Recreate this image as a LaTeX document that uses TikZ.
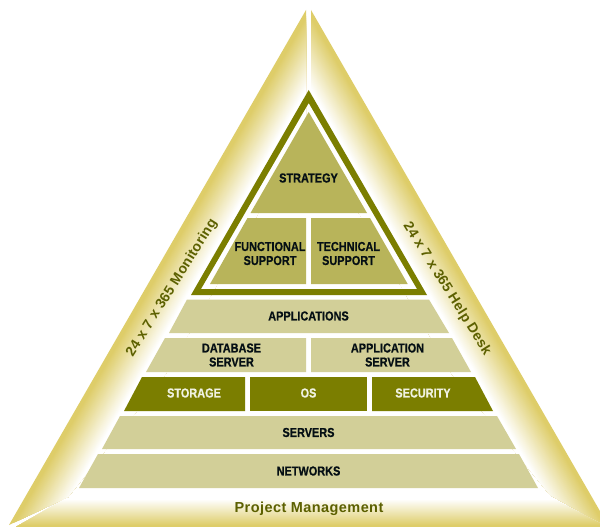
\documentclass[tikz,border=0pt]{standalone}
\usepackage{fontspec}
\setmainfont{Liberation Sans}
\newfontfamily\narrowbold[FakeStretch=0.84,FakeBold=0.6]{Liberation Sans Bold}
\newfontfamily\sidebold[LetterSpace=3]{Liberation Sans Bold}
\newfontfamily\slantbold[LetterSpace=2]{Liberation Sans Bold}
\definecolor{goldedge}{RGB}{222,205,105}
\definecolor{olive}{RGB}{123,126,0}
\definecolor{olivetext}{RGB}{92,96,0}
\definecolor{midtan}{RGB}{184,180,90}
\definecolor{lighttan}{RGB}{210,207,152}
\definecolor{inktext}{RGB}{5,15,20}
\definecolor{paletext}{RGB}{240,242,225}
\tikzset{
  midblock/.style={fill=midtan},
  lightblock/.style={fill=lighttan},
  darkblock/.style={fill=olive},
  lbl/.style={font=\narrowbold\fontsize{13}{14}\selectfont,text=inktext,align=center,inner sep=0pt},
  lblpale/.style={lbl,text=paletext},
  sidelbl/.style={font=\sidebold\fontsize{14.5}{15}\selectfont,text=olivetext,inner sep=0pt},
  slantlbl/.style={font=\slantbold\fontsize{14}{15}\selectfont,text=olivetext,inner sep=0pt}
}
\begin{document}
\begin{tikzpicture}[x=1pt,y=1pt]
\useasboundingbox (0,-527) rectangle (600,0);
\fill[white] (0,-527) rectangle (600,0);
% outer panels: gradients painted as overlapping strips
\begin{scope}
  \clip (306,-10) -- (306,-200) -- (68,-497) -- (9,-525) -- cycle;
  \fill[goldedge,shift={(9,-525)},rotate=-30] (-5,-20) rectangle (60,620);
  \foreach \u in {3,4,...,39}{
    \pgfmathsetmacro{\pc}{100*(39-\u)/36}
    \fill[goldedge!\pc!white,shift={(9,-525)},rotate=-30] (\u,-20) rectangle (60,620);
  }
\end{scope}
\begin{scope}
  \clip (311,-10) -- (311,-200) -- (550,-495) -- (600,-523) -- (600,-10) -- cycle;
  \clip (311,-10) -- (608,-525) -- (311,-525) -- cycle;
  \fill[goldedge,shift={(311,-10)},rotate=30] (-60,-620) rectangle (5,20);
  \foreach \u in {3,4,...,39}{
    \pgfmathsetmacro{\pc}{100*(39-\u)/36}
    \fill[goldedge!\pc!white,shift={(311,-10)},rotate=30] (-60,-620) rectangle (-\u,20);
  }
\end{scope}
\begin{scope}
  \clip (16,-527) -- (68,-497) -- (550,-497) -- (607,-527) -- cycle;
  \foreach \v in {0,1,...,26}{
    \pgfmathsetmacro{\pc}{100*\v/26}
    \fill[goldedge!\pc!white] (0,-499-\v) rectangle (600,-527);
  }
\end{scope}
% thick triangle
\fill[darkblock,even odd rule] (308.7,-90) -- (427,-295) -- (191,-295) -- cycle
  (308.7,-103) -- (417,-289) -- (201,-289) -- cycle;
% inner blocks
\fill[midblock] (308.7,-112) -- (367,-213) -- (250.5,-213) -- cycle;
\fill[midblock] (247.5,-218) -- (306,-218) -- (306,-284) -- (210,-284) -- cycle;
\fill[midblock] (311,-218) -- (370,-218) -- (407.7,-284) -- (311,-284) -- cycle;
% layered blocks
\fill[lightblock] (187,-299.5) -- (429,-299.5) -- (449,-333) -- (169,-333) -- cycle;
\fill[lightblock] (165,-338) -- (306,-338) -- (306,-372) -- (146,-372) -- cycle;
\fill[lightblock] (311,-338) -- (452,-338) -- (471,-372) -- (311,-372) -- cycle;
\fill[darkblock] (142,-377) -- (245,-377) -- (245,-411) -- (124,-411) -- cycle;
\fill[darkblock] (250,-377) rectangle (367,-411);
\fill[darkblock] (372,-377) -- (475,-377) -- (493,-411) -- (372,-411) -- cycle;
\fill[lightblock] (120,-416) -- (497,-416) -- (516,-449) -- (102,-449) -- cycle;
\fill[lightblock] (98,-454) -- (519,-454) -- (538,-488) -- (79,-488) -- cycle;
% labels
\node[lbl] (strategy) at (308.5,-178) {STRATEGY};
\node[lbl] (functional) at (270,-253.5) {FUNCTIONAL\\SUPPORT};
\node[lbl] (technical) at (348.5,-253.5) {TECHNICAL\\SUPPORT};
\node[lbl] (applications) at (308.5,-316) {APPLICATIONS};
\node[lbl] (database) at (231.5,-355) {DATABASE\\SERVER};
\node[lbl] (appserver) at (387.5,-355) {APPLICATION\\SERVER};
\node[lblpale] (storage) at (194,-393) {STORAGE};
\node[lblpale] (os) at (308.5,-393) {OS};
\node[lblpale] (security) at (423,-393) {SECURITY};
\node[lbl] (servers) at (308.5,-432.5) {SERVERS};
\node[lbl] (networks) at (308.5,-471) {NETWORKS};
\node[sidelbl] (project) at (309,-508.5) {Project Management};
\node[slantlbl,rotate=58] (monitoring) at (172,-288) {24 x 7 x 365 Monitoring};
\node[slantlbl,rotate=-58] (helpdesk) at (447,-289) {24 x 7 x 365 Help Desk};
\end{tikzpicture}
\end{document}
